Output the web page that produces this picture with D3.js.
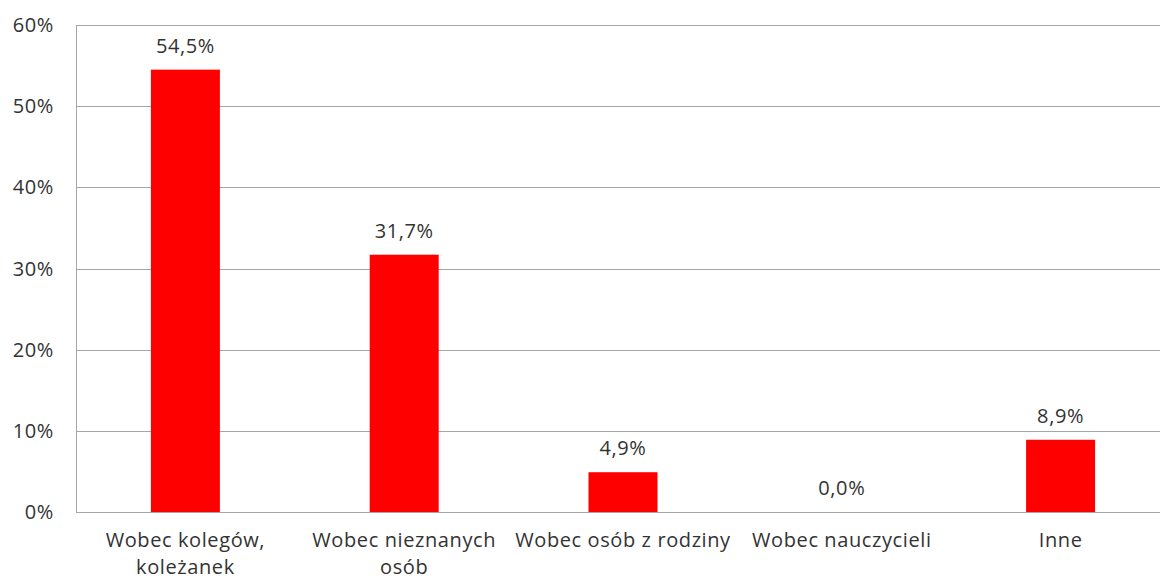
<!DOCTYPE html>
<html>
<head>
<meta charset="utf-8">
<script src="https://cdn.jsdelivr.net/npm/d3@7"></script>
<style>
  body { margin: 0; background: #fff; }
  text { font-family: "Open Sans", Lato, sans-serif; fill: #333; letter-spacing: 0.6px; }
</style>
</head>
<body>
<div id="chart"></div>
<script>
// data
var categories = [["Wobec kolegów,", "koleżanek"], ["Wobec nieznanych", "osób"], ["Wobec osób z rodziny"], ["Wobec nauczycieli"], ["Inne"]];
var values = [54.5, 31.7, 4.9, 0.0, 8.9];
var yTicks = [0, 10, 20, 30, 40, 50, 60];

// the plot runs a bit past the right edge of the picture
var margin = { top: 25, right: -10, bottom: 68, left: 76 };
var width = 1160 - margin.left - margin.right,
    height = 580 - margin.top - margin.bottom;

var svg = d3.select("#chart")
  .append("svg")
    .attr("width", 1160)
    .attr("height", 580)
  .append("g")
    .attr("transform", "translate(" + margin.left + "," + margin.top + ")");

var x = d3.scaleBand()
  .domain(d3.range(categories.length))
  .range([0, width]);

var y = d3.scaleLinear()
  .domain([0, 60])
  .range([height, 0]);

// gridlines
svg.append("g")
  .selectAll("line")
  .data(yTicks)
  .join("line")
    .attr("x1", 0)
    .attr("x2", width)
    .attr("y1", (d) => Math.round(y(d)) + 0.5)
    .attr("y2", (d) => Math.round(y(d)) + 0.5)
    .attr("stroke", "#a6a6a6")
    .attr("stroke-width", 1);

// y axis line
svg.append("line")
  .attr("x1", 0.5).attr("x2", 0.5)
  .attr("y1", 0).attr("y2", height)
  .attr("stroke", "#a6a6a6");

// y tick labels
svg.append("g")
  .selectAll("text")
  .data(yTicks)
  .join("text")
    .attr("x", -22)
    .attr("y", (d) => y(d))
    .attr("dy", "0.35em")
    .attr("text-anchor", "end")
    .style("font-size", "20px")
    .text((d) => d + "%");

// bars
var barW = 69;
svg.append("g")
  .selectAll("rect")
  .data(values)
  .join("rect")
    .attr("x", (d, i) => x(i) + x.bandwidth() / 2 - barW / 2)
    .attr("y", (d) => y(d))
    .attr("width", barW)
    .attr("height", (d) => y(0) - y(d))
    .attr("fill", "#ff0000");

// value labels
svg.append("g")
  .selectAll("text")
  .data(values)
  .join("text")
    .attr("x", (d, i) => x(i) + x.bandwidth() / 2)
    .attr("y", (d) => y(d) - 17)
    .attr("text-anchor", "middle")
    .style("font-size", "20px")
    .text((d) => d.toFixed(1).replace(".", ",") + "%");

// category labels
var cat = svg.append("g")
  .selectAll("text")
  .data(categories)
  .join("text")
    .attr("x", (d, i) => x(i) + x.bandwidth() / 2)
    .attr("y", height + 35)
    .attr("text-anchor", "middle")
    .style("font-size", "20px");

cat.selectAll("tspan")
  .data((d) => d)
  .join("tspan")
    .attr("x", function () { return d3.select(this.parentNode).attr("x"); })
    .attr("dy", (d, i) => i === 0 ? 0 : 27)
    .text((d) => d);
</script>
</body>
</html>
